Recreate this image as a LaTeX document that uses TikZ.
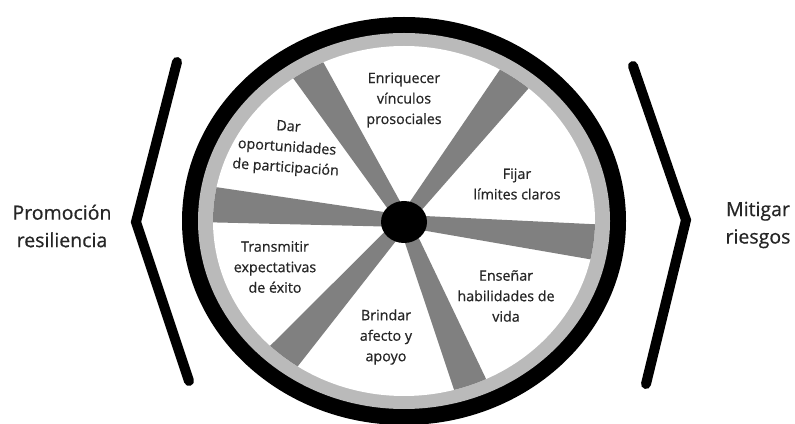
\documentclass[tikz,border=0pt]{standalone}
\usepackage{fontspec}
\setmainfont{Open Sans}
\newfontfamily\wheelfont[FakeBold=0.6]{Open Sans}
\definecolor{spokegray}{RGB}{128,128,128}
\definecolor{ringgray}{RGB}{186,186,186}
\definecolor{txt}{RGB}{38,38,38}
\tikzset{
  spoke/.style={fill=spokegray},
  lbl/.style={align=center, text=txt, inner sep=0pt, font=\wheelfont\fontsize{14.3}{20.5}\selectfont},
  side/.style={align=center, text=txt, inner sep=0pt, font=\wheelfont\fontsize{19.5}{27.5}\selectfont},
  chev/.style={line width=10pt, line cap=round, line join=miter}
}
\begin{document}
\begin{tikzpicture}[x=1pt,y=1pt]
\useasboundingbox (0,0) rectangle (795,423);
\fill[white] (0,0) rectangle (795,423);
\coordinate (c) at (404,202);
% wheel rings
\fill[black] (c) ellipse [x radius=222, y radius=204];
\fill[ringgray] (c) ellipse [x radius=206, y radius=188];
\fill[white] (c) ellipse [x radius=191, y radius=175];
% spokes
\begin{scope}
  \clip (c) ellipse [x radius=191, y radius=175];
  \foreach \a in {122.4,52.2,-6.3,-68,-131.6,175.1}{
    \fill[spoke, shift={(404,202)}, rotate=\a] (0,-6) -- (260,-22) -- (260,22) -- (0,6) -- cycle;
  }
\end{scope}
% hub
\fill[black] (404,201) ellipse [x radius=23, y radius=21];
% labels in the wheel
\node[lbl] (t1) at (404,323) {Enriquecer\\vínculos\\prosociales};
\node[lbl, rotate=-4] (t2) at (287,275) {Dar\\oportunidades\\de participación};
\node[lbl] (t3) at (517,239) {Fijar\\límites claros};
\node[lbl] (t4) at (275,156) {Transmitir\\expectativas\\de éxito};
\node[lbl] (t5) at (386,86) {Brindar\\afecto y\\apoyo};
\node[lbl] (t6) at (506,127) {Enseñar\\habilidades de\\vida};
% side texts
\node[side] (l) at (62,197) {Promoción\\resiliencia};
\node[side] (r) at (758,198) {Mitigar\\riesgos};
% chevrons
\coordinate (la) at (177,361);
\coordinate (lb) at (136,201);
\coordinate (lc) at (189,42);
\coordinate (ra) at (633,357);
\coordinate (rb) at (686,203);
\coordinate (rc) at (646,39);
\draw[chev] (la) -- (lb) -- (lc);
\draw[chev] (ra) -- (rb) -- (rc);
\end{tikzpicture}
\end{document}
